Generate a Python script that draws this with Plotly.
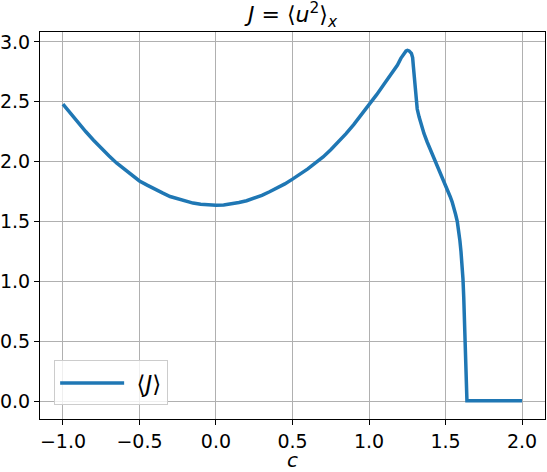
import plotly.graph_objects as go

c_vals = [-1.0, -0.95, -0.9, -0.85, -0.8, -0.75, -0.7, -0.65, -0.6, -0.55, -0.5,
          -0.45, -0.4, -0.35, -0.3, -0.25, -0.2, -0.15, -0.1, -0.05, 0.0,
          0.05, 0.1, 0.15, 0.2, 0.25, 0.3, 0.35, 0.4, 0.45, 0.5, 0.55, 0.6, 0.65,
          0.7, 0.75, 0.8, 0.85, 0.9, 0.95, 1.0, 1.05, 1.1, 1.15, 1.186, 1.208,
          1.229, 1.242, 1.251, 1.262, 1.277, 1.285, 1.290, 1.295, 1.299, 1.305,
          1.315, 1.327, 1.342, 1.359, 1.38, 1.403, 1.424, 1.445, 1.472,
          1.5, 1.515, 1.53, 1.543, 1.554, 1.566, 1.577, 1.586, 1.594, 1.601, 1.608,
          1.614, 1.619, 1.625, 1.630, 1.635, 1.640, 1.7, 1.8, 1.9, 2.0]
J_vals = [2.48, 2.40, 2.32, 2.25, 2.18, 2.11, 2.05, 1.99, 1.94, 1.89, 1.84,
          1.805, 1.77, 1.74, 1.71, 1.69, 1.67, 1.655, 1.645, 1.64, 1.637,
          1.64, 1.647, 1.66, 1.675, 1.695, 1.72, 1.75, 1.78, 1.815, 1.855, 1.895, 1.94, 1.99,
          2.04, 2.10, 2.165, 2.235, 2.31, 2.39, 2.475, 2.56, 2.65, 2.74, 2.807, 2.863,
          2.91, 2.925, 2.93, 2.925, 2.905, 2.87, 2.793, 2.72, 2.654, 2.514,
          2.44, 2.375, 2.305, 2.236, 2.165, 2.096, 2.035, 1.971, 1.895,
          1.817, 1.765, 1.71, 1.665, 1.62, 1.56, 1.50, 1.425, 1.34, 1.25, 1.148,
          1.02, 0.869, 0.66, 0.45, 0.23, 0.005, 0.005, 0.005, 0.005, 0.005]

x_ticks = [-1.0, -0.5, 0.0, 0.5, 1.0, 1.5, 2.0]
y_ticks = [0.0, 0.5, 1.0, 1.5, 2.0, 2.5, 3.0]

FONT = "DejaVu Sans"

fig = go.Figure()
fig.add_trace(go.Scatter(x=c_vals, y=J_vals, mode="lines",
                         line=dict(color="#1f77b4", width=3.5),
                         name=" ⟨<i>J</i>⟩"))

axis_common = dict(showgrid=True, gridcolor="#b0b0b0", gridwidth=1,
                   showline=True, linecolor="black", linewidth=1, mirror=True,
                   ticks="outside", ticklen=5, tickcolor="black", tickwidth=1,
                   zeroline=False, tickformat=".1f", automargin=False,
                   tickfont=dict(family=FONT, size=19, color="black"))

fig.update_layout(
    width=547, height=472,
    margin=dict(l=40, r=2, t=32, b=53),
    paper_bgcolor="white", plot_bgcolor="white",
    font=dict(family=FONT, size=19, color="black"),
    title=dict(text="<i>J</i> = ⟨<i>u</i><sup>2</sup>⟩<sub><i>x</i></sub>",
               x=292.5 / 547, xanchor="center", y=0.985, yanchor="top",
               font=dict(family=FONT, size=22, color="black")),
    xaxis=dict(range=[-1.15, 2.15], tickvals=x_ticks, **axis_common),
    yaxis=dict(range=[-0.1468, 3.0828], tickvals=y_ticks, **axis_common),
    legend=dict(x=0.028, y=0.035, xanchor="left", yanchor="bottom",
                bgcolor="rgba(255,255,255,0.8)", bordercolor="#cccccc", borderwidth=1,
                itemwidth=64,
                font=dict(family=FONT, size=23, color="black")),
    showlegend=True,
    annotations=[dict(text="<i>c</i>", xref="paper", yref="paper", x=0.5, y=-0.105,
                      xanchor="center", yanchor="middle", showarrow=False,
                      font=dict(family=FONT, size=20, color="black"))],
)

fig.write_html("out.html", config={"displayModeBar": False},
               post_script="document.body.style.margin='0';")
